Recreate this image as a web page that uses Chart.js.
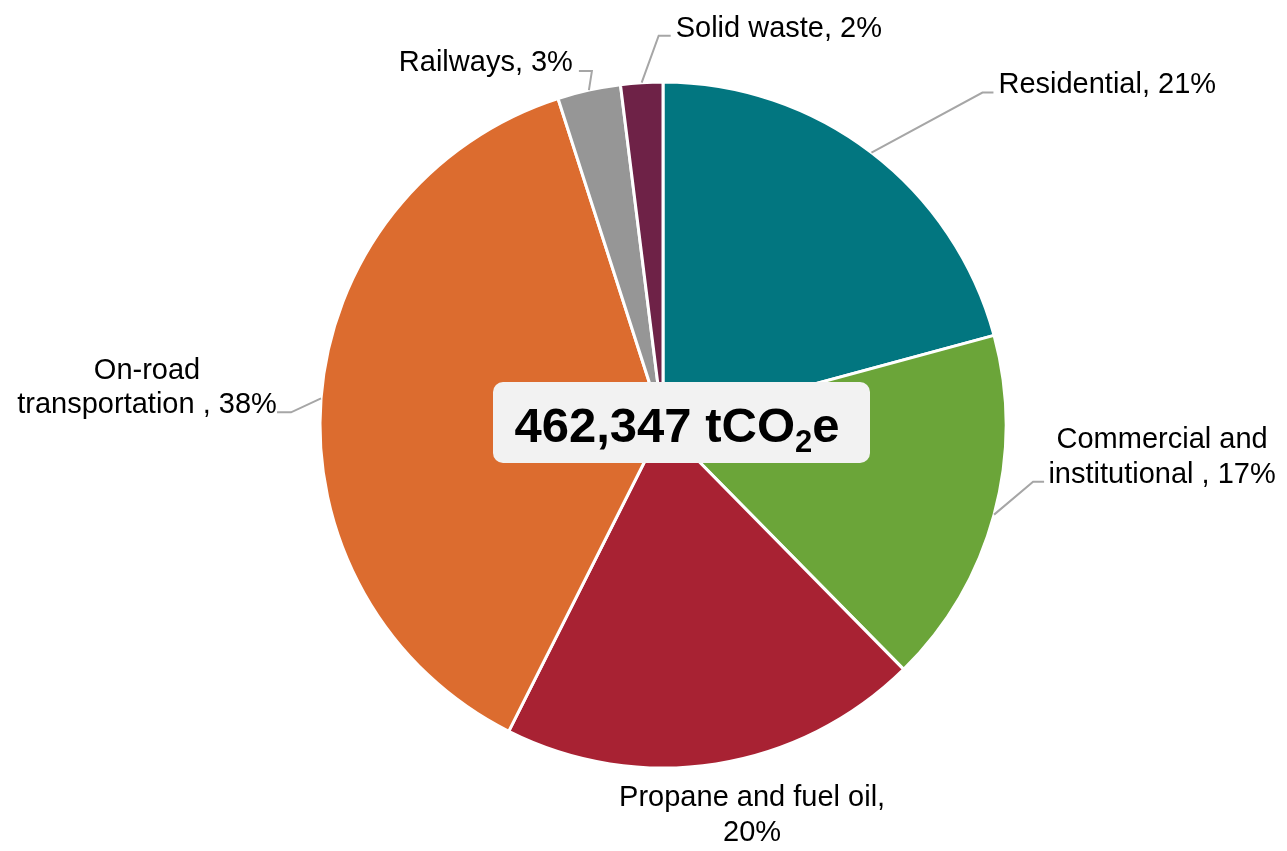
<!DOCTYPE html>
<html lang="en">
<head>
<meta charset="UTF-8">
<title>Emissions by sector</title>
<script src="https://cdn.jsdelivr.net/npm/chart.js"></script>
<style>
    body {
        margin: 0;
        background: #fff;
    }
    #wrap {
        width: 1287px;
        height: 851px;
        position: relative;
    }
</style>
</head>
<body>
<div id="wrap"><canvas id="sectorPie"></canvas></div>

<script>
    // sector shares (%), clockwise from 12 o'clock
    const sectors = ['Residential', 'Commercial and institutional ', 'Propane and fuel oil', 'On-road transportation ', 'Railways', 'Solid waste'];
    const shares = [21, 17, 20, 38, 3, 2];
    const colors = ['#027680', '#6ba539', '#a82233', '#dc6c2f', '#969696', '#6e2247'];
    const totalParts = ['462,347 tCO', '2', 'e'];

    // where each label sits relative to the edge of its slice
    const labelLayout = [
        { elbow: [111, -60], tail: 11, text: [5, 0], align: 'left' },
        { elbow: [39, -33], tail: 11, text: [118, 1], align: 'center', maxWidth: 240 },
        { elbow: null, text: [36, 77], align: 'center', maxWidth: 270 },
        { elbow: [-30, 14], tail: -14, text: [-130, 1], align: 'center', maxWidth: 265 },
        { elbow: [3, -19], tail: -13, text: [-6, 0], align: 'right' },
        { elbow: [17, -47], tail: 12, text: [5, 1], align: 'left' }
    ];

    const FONT = '"Liberation Sans", Arial, sans-serif';

    function wrapText(ctx, text, maxWidth) {
        const words = text.split(' ');
        const lines = [];
        let line = '';
        words.forEach(w => {
            const test = line ? line + ' ' + w : w;
            if (line && ctx.measureText(test).width > maxWidth) {
                lines.push(line);
                line = w;
            } else {
                line = test;
            }
        });
        if (line) lines.push(line);
        return lines;
    }

    const sliceLabels = {
        id: 'sliceLabels',
        afterDraw(chart) {
            const ctx = chart.ctx;
            const meta = chart.getDatasetMeta(0);
            ctx.save();
            ctx.font = '29px ' + FONT;
            ctx.fillStyle = '#000';
            ctx.strokeStyle = '#a6a6a6';
            ctx.lineWidth = 2;
            ctx.textBaseline = 'alphabetic';

            meta.data.forEach((arc, i) => {
                const p = arc.getProps(['x', 'y', 'startAngle', 'endAngle', 'outerRadius'], true);
                const mid = (p.startAngle + p.endAngle) / 2;
                const ax = p.x + Math.cos(mid) * p.outerRadius;
                const ay = p.y + Math.sin(mid) * p.outerRadius;
                const cfg = labelLayout[i];
                let tx = ax, ty = ay;
                if (cfg.elbow) {
                    const ex = ax + cfg.elbow[0], ey = ay + cfg.elbow[1];
                    tx = ex + cfg.tail;
                    ty = ey;
                    ctx.beginPath();
                    ctx.moveTo(ax, ay);
                    ctx.lineTo(ex, ey);
                    ctx.lineTo(tx, ty);
                    ctx.stroke();
                }
                const lines = wrapText(ctx, sectors[i] + ', ' + shares[i] + '%', cfg.maxWidth || Infinity);
                ctx.textAlign = cfg.align;
                const x = tx + cfg.text[0];
                const yLast = ty + cfg.text[1];
                lines.forEach((l, k) => {
                    ctx.fillText(l, x, yLast - (lines.length - 1 - k) * 34.5);
                });
            });

            // total in the middle
            const cx = meta.data[0].x, cy = meta.data[0].y;
            const bw = 377, bh = 81;
            const bx = cx + 18.5 - bw / 2, by = cy - 2.5 - bh / 2;
            ctx.fillStyle = '#f2f2f2';
            ctx.beginPath();
            ctx.roundRect(bx, by, bw, bh, 10);
            ctx.fill();

            const big = 'bold 49px ' + FONT, small = 'bold 31px ' + FONT;
            ctx.font = big;
            const w1 = ctx.measureText(totalParts[0]).width;
            const w3 = ctx.measureText(totalParts[2]).width;
            ctx.font = small;
            const w2 = ctx.measureText(totalParts[1]).width;
            let x = cx + 14 - (w1 + w2 + w3) / 2;
            const base = cy + 17;
            ctx.textAlign = 'left';
            ctx.fillStyle = '#000';
            ctx.font = big;
            ctx.fillText(totalParts[0], x, base);
            x += w1;
            ctx.font = small;
            ctx.fillText(totalParts[1], x, base + 10);
            x += w2;
            ctx.font = big;
            ctx.fillText(totalParts[2], x, base);
            ctx.restore();
        }
    };

    new Chart(document.getElementById('sectorPie'), {
        type: 'pie',
        data: {
            labels: sectors,
            datasets: [{
                data: shares,
                backgroundColor: colors,
                borderColor: '#fff',
                borderWidth: 3,
                hoverOffset: 0
            }]
        },
        options: {
            responsive: true,
            maintainAspectRatio: false,
            animation: false,
            radius: 343,
            events: [],
            layout: { padding: { left: 39, bottom: 1 } },
            plugins: {
                legend: { display: false },
                tooltip: { enabled: false }
            }
        },
        plugins: [sliceLabels]
    });
</script>
</body>
</html>
